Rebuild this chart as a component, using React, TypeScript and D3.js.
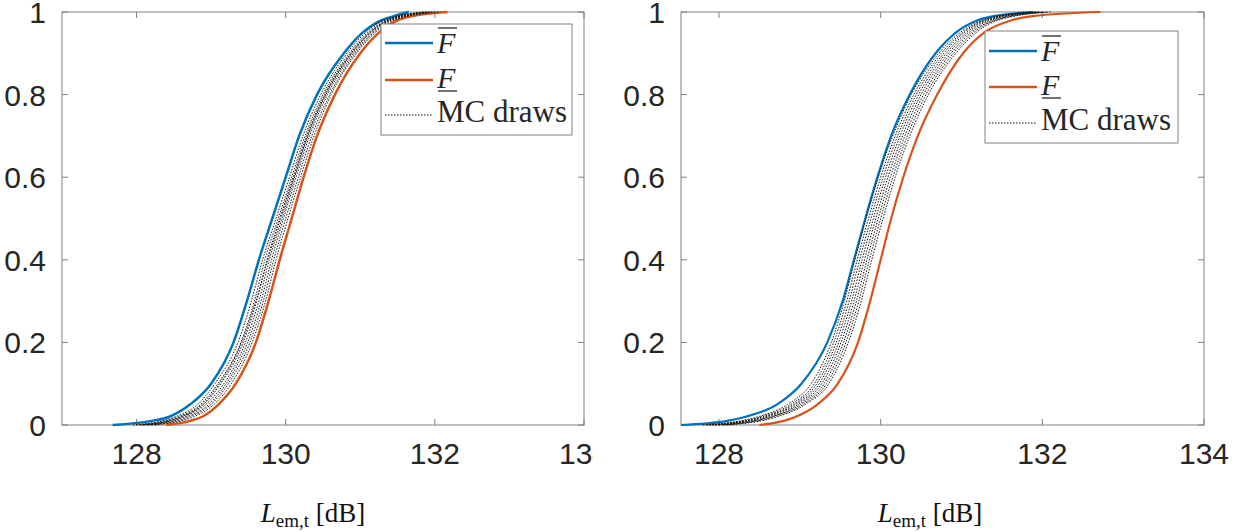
import * as d3 from 'd3'

// probability levels the curves are read at
const P_BOUND = [0, 0.01, 0.02, 0.05, 0.1, 0.2, 0.3, 0.4, 0.5, 0.6, 0.7, 0.8, 0.9, 0.95, 0.98, 0.99, 1]
const P_MC = [0, 0.02, 0.05, 0.1, 0.2, 0.3, 0.4, 0.5, 0.6, 0.7, 0.8, 0.9, 0.95, 0.98, 1]

const X_TICKS = [128, 130, 132, 134]
const Y_TICKS = [0, 0.2, 0.4, 0.6, 0.8, 1]
const Y_TICK_LABELS = ['0', '0.2', '0.4', '0.6', '0.8', '1']

// left panel: L_em,t values at each probability level
const LEFT_UPPER = [127.68, 128.2, 128.44, 128.72, 129.0, 129.3, 129.48, 129.64, 129.82, 130.0, 130.18, 130.42, 130.78, 131.03, 131.28, 131.45, 131.65]
const LEFT_LOWER = [128.4, 128.72, 128.88, 129.1, 129.33, 129.6, 129.77, 129.92, 130.08, 130.24, 130.42, 130.66, 131.0, 131.25, 131.5, 131.7, 132.17]
const LEFT_MC = [
  [127.95, 128.52, 128.82, 129.05, 129.36, 129.54, 129.69, 129.87, 130.05, 130.23, 130.47, 130.82, 131.07, 131.3, 131.9],
  [128.0, 128.56, 128.86, 129.09, 129.4, 129.58, 129.72, 129.9, 130.08, 130.26, 130.5, 130.85, 131.1, 131.33, 131.95],
  [128.05, 128.6, 128.9, 129.13, 129.43, 129.61, 129.75, 129.92, 130.1, 130.28, 130.52, 130.87, 131.12, 131.36, 131.85],
  [128.1, 128.64, 128.93, 129.17, 129.46, 129.64, 129.78, 129.95, 130.12, 130.3, 130.54, 130.89, 131.14, 131.38, 132.0],
  [128.15, 128.68, 128.97, 129.2, 129.49, 129.67, 129.81, 129.97, 130.14, 130.32, 130.56, 130.91, 131.16, 131.4, 131.95],
  [128.2, 128.72, 129.0, 129.23, 129.52, 129.7, 129.84, 130.0, 130.17, 130.35, 130.59, 130.93, 131.18, 131.42, 132.05],
  [128.25, 128.77, 129.04, 129.27, 129.55, 129.73, 129.87, 130.03, 130.2, 130.38, 130.61, 130.95, 131.2, 131.45, 132.0],
  [128.08, 128.6, 128.88, 129.11, 129.41, 129.6, 129.76, 129.93, 130.11, 130.29, 130.53, 130.88, 131.13, 131.37, 131.9],
]

// right panel
const RIGHT_UPPER = [127.53, 128.1, 128.33, 128.72, 129.02, 129.34, 129.53, 129.67, 129.81, 129.96, 130.13, 130.36, 130.68, 130.93, 131.2, 131.4, 131.88]
const RIGHT_LOWER = [128.5, 128.8, 128.95, 129.22, 129.47, 129.72, 129.87, 130.0, 130.13, 130.28, 130.46, 130.7, 131.02, 131.28, 131.62, 131.88, 132.72]
const RIGHT_MC = [
  [127.8, 128.48, 128.85, 129.14, 129.39, 129.55, 129.68, 129.82, 129.97, 130.15, 130.38, 130.72, 130.98, 131.25, 131.85],
  [127.85, 128.52, 128.89, 129.18, 129.42, 129.58, 129.71, 129.85, 130.0, 130.18, 130.41, 130.75, 131.01, 131.28, 131.9],
  [127.88, 128.55, 128.92, 129.21, 129.45, 129.61, 129.74, 129.88, 130.03, 130.21, 130.44, 130.78, 131.03, 131.3, 131.92],
  [127.92, 128.58, 128.95, 129.24, 129.48, 129.64, 129.77, 129.91, 130.06, 130.24, 130.47, 130.81, 131.06, 131.33, 131.98],
  [127.95, 128.62, 128.98, 129.27, 129.51, 129.67, 129.8, 129.94, 130.09, 130.27, 130.5, 130.84, 131.09, 131.36, 131.95],
  [128.0, 128.65, 129.01, 129.3, 129.54, 129.7, 129.83, 129.97, 130.12, 130.3, 130.53, 130.87, 131.12, 131.4, 132.02],
  [128.05, 128.68, 129.04, 129.33, 129.57, 129.73, 129.86, 130.0, 130.15, 130.33, 130.56, 130.9, 131.15, 131.42, 132.05],
  [128.1, 128.72, 129.07, 129.36, 129.6, 129.76, 129.89, 130.03, 130.18, 130.36, 130.59, 130.93, 131.18, 131.45, 132.1],
]

const BLUE = '#0072BD'
const ORANGE = '#D95319'
const AXIS = '#808080'
const TEXT = '#262626'
const MC_STROKE = '#111'
const SANS = '"Liberation Sans", Arial, sans-serif'
const SERIF = '"Liberation Serif", "Times New Roman", serif'

interface PanelProps {
  id: string
  xDomain: [number, number]
  left: number
  right: number
  top: number
  bottom: number
  clipRight?: number
  lineWidth: number
  xLabelX: number
  upper: number[]
  lower: number[]
  mc: number[][]
  legend: { x0: number; y0: number; x1: number; y1: number; rows: number[] }
}

function Panel({ id, xDomain, left, right, top, bottom, clipRight, lineWidth, xLabelX, upper, lower, mc, legend }: PanelProps) {
  const x = d3.scaleLinear().domain(xDomain).range([left, right])
  const y = d3.scaleLinear().domain([0, 1]).range([bottom, top])
  const line = d3
    .line<[number, number]>()
    .x((d) => x(d[0]))
    .y((d) => y(d[1]))
    .curve(d3.curveMonotoneX)
  const pair = (xs: number[], ps: number[]) => xs.map((v, i) => [v, ps[i]] as [number, number])
  const tick = 6
  const lx0 = legend.x0 + 4
  const lx1 = legend.x0 + 52
  const tx = legend.x0 + 56

  return (
    <g clipPath={clipRight ? `url(#clip-${id})` : undefined}>
      {clipRight && (
        <defs>
          <clipPath id={`clip-${id}`}>
            <rect x={0} y={0} width={clipRight} height={532} />
          </clipPath>
        </defs>
      )}
      {/* box */}
      <rect x={left} y={top} width={right - left} height={bottom - top} fill="white" stroke={AXIS} strokeWidth={1} />
      {X_TICKS.map((t) => (
        <g key={t}>
          <line x1={x(t)} x2={x(t)} y1={bottom} y2={bottom - tick} stroke={AXIS} />
          <line x1={x(t)} x2={x(t)} y1={top} y2={top + tick} stroke={AXIS} />
          <text x={x(t)} y={464} textAnchor="middle" fontFamily={SANS} fontSize={30} fill={TEXT}>
            {t}
          </text>
        </g>
      ))}
      {Y_TICKS.map((t, i) => (
        <g key={t}>
          <line x1={left} x2={left + tick} y1={y(t)} y2={y(t)} stroke={AXIS} />
          <line x1={right} x2={right - tick} y1={y(t)} y2={y(t)} stroke={AXIS} />
          <text x={left - 16} y={y(t) + 11} textAnchor="end" fontFamily={SANS} fontSize={30} fill={TEXT}>
            {Y_TICK_LABELS[i]}
          </text>
        </g>
      ))}
      {/* curves */}
      <path d={line(pair(upper, P_BOUND)) ?? ''} fill="none" stroke={BLUE} strokeWidth={lineWidth} />
      <path d={line(pair(lower, P_BOUND)) ?? ''} fill="none" stroke={ORANGE} strokeWidth={lineWidth} />
      {mc.map((draw, i) => (
        <path key={i} d={line(pair(draw, P_MC)) ?? ''} fill="none" stroke={MC_STROKE} strokeWidth={1} strokeDasharray="1.5 1.5" />
      ))}
      {/* legend */}
      <rect x={legend.x0} y={legend.y0} width={legend.x1 - legend.x0} height={legend.y1 - legend.y0} fill="white" stroke={AXIS} />
      <line x1={lx0} x2={lx1} y1={legend.rows[0]} y2={legend.rows[0]} stroke={BLUE} strokeWidth={2.5} />
      <line x1={lx0} x2={lx1} y1={legend.rows[1]} y2={legend.rows[1]} stroke={ORANGE} strokeWidth={2.5} />
      <line x1={lx0} x2={lx1} y1={legend.rows[2]} y2={legend.rows[2]} stroke={MC_STROKE} strokeWidth={1} strokeDasharray="1.5 1.5" />
      <text x={tx} y={legend.rows[0] + 10} fontFamily={SERIF} fontStyle="italic" fontSize={30} fill={TEXT}>
        F
      </text>
      <line x1={tx + 1} x2={tx + 20} y1={legend.rows[0] - 15} y2={legend.rows[0] - 15} stroke={TEXT} strokeWidth={1.3} />
      <text x={tx} y={legend.rows[1] + 8} fontFamily={SERIF} fontStyle="italic" fontSize={30} fill={TEXT}>
        F
      </text>
      <line x1={tx + 1} x2={tx + 20} y1={legend.rows[1] + 11} y2={legend.rows[1] + 11} stroke={TEXT} strokeWidth={1.3} />
      <text x={tx} y={legend.rows[2] + 7} fontFamily={SERIF} fontSize={31} fill={TEXT}>
        MC draws
      </text>
      {/* x label */}
      <text x={xLabelX} y={522} textAnchor="middle" fontFamily={SERIF} fontSize={27} fill="#111">
        <tspan fontStyle="italic">L</tspan>
        <tspan fontSize={19} dy={5}>em,t</tspan>
        <tspan dy={-5}> [dB]</tspan>
      </text>
    </g>
  )
}

export default function App() {
  return (
    <div style={{ position: 'absolute', left: 0, top: 0 }}>
      <svg width={1256} height={532} style={{ display: 'block', background: 'white' }}>
        <Panel
          id="left"
          xDomain={[127, 134]}
          left={62}
          right={584}
          top={12}
          bottom={425}
          clipRight={593}
          lineWidth={2.5}
          xLabelX={313}
          upper={LEFT_UPPER}
          lower={LEFT_LOWER}
          mc={LEFT_MC}
          legend={{ x0: 381, y0: 24, x1: 572, y1: 135, rows: [43, 80, 115] }}
        />
        <Panel
          id="right"
          xDomain={[127.53, 134]}
          left={681}
          right={1204}
          top={12}
          bottom={425}
          lineWidth={2.2}
          xLabelX={930}
          upper={RIGHT_UPPER}
          lower={RIGHT_LOWER}
          mc={RIGHT_MC}
          legend={{ x0: 985, y0: 31, x1: 1178, y1: 143, rows: [51, 87, 123] }}
        />
      </svg>
    </div>
  )
}
